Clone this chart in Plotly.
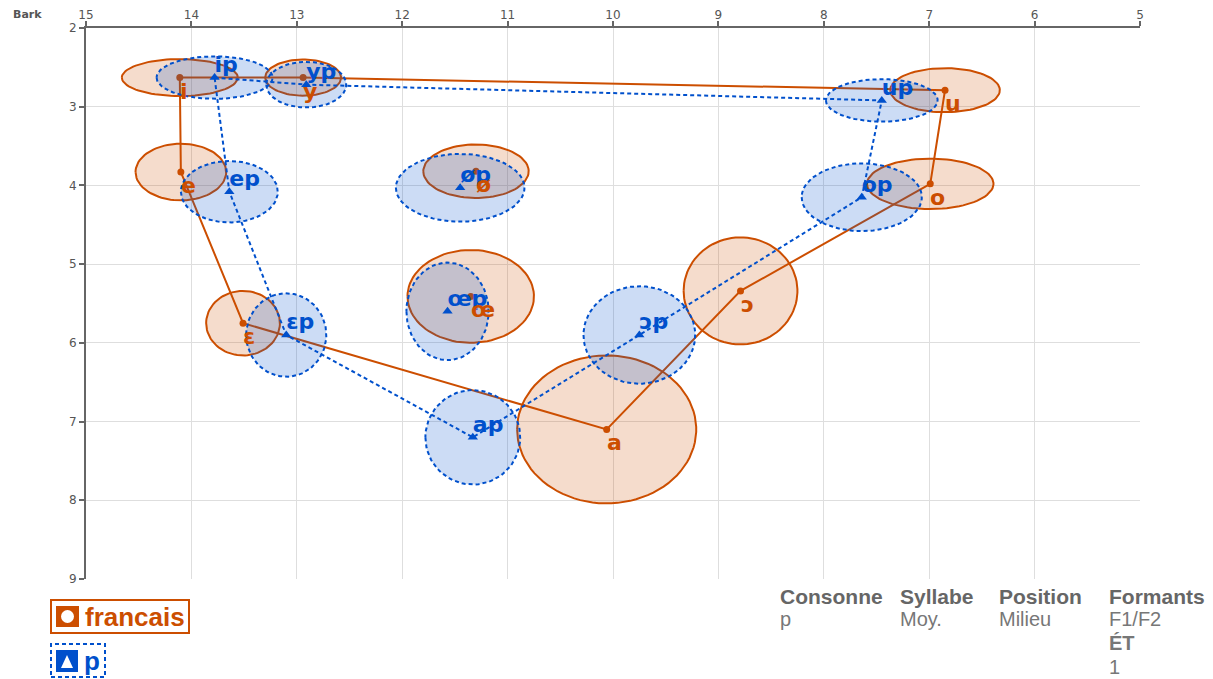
import numpy as np
import plotly.graph_objects as go

# ---------------- data ----------------
fr_labels = ["i", "y", "u", "o", "ɔ", "a", "ɛ", "e", "ø", "œ"]
fr_f2 = [14.11, 12.94, 6.85, 6.99, 8.79, 10.06, 13.51, 14.10, 11.30, 11.35]
fr_f1 = [2.63, 2.63, 2.79, 3.98, 5.34, 7.10, 5.75, 3.83, 3.82, 5.41]
fr_sd2 = [0.55, 0.36, 0.52, 0.60, 0.54, 0.85, 0.35, 0.43, 0.50, 0.60]
fr_sd1 = [0.235, 0.23, 0.28, 0.32, 0.68, 0.94, 0.41, 0.36, 0.34, 0.59]

p_labels = ["ip", "yp", "up", "op", "ɔp", "ap", "ɛp", "ep", "øp", "œp"]
p_f2 = [13.78, 12.91, 7.45, 7.64, 9.75, 11.33, 13.10, 13.64, 11.45, 11.57]
p_f1 = [2.63, 2.72, 2.92, 4.15, 5.90, 7.20, 5.90, 4.08, 4.03, 5.60]
p_sd2 = [0.55, 0.38, 0.53, 0.57, 0.53, 0.45, 0.38, 0.46, 0.61, 0.39]
p_sd1 = [0.27, 0.29, 0.27, 0.43, 0.62, 0.60, 0.53, 0.39, 0.43, 0.62]

# polygon order (indices into the lists above)
polygon_order = [0, 1, 2, 3, 4, 5, 6, 7, 0]

x_ticks = [15, 14, 13, 12, 11, 10, 9, 8, 7, 6, 5]
y_ticks = [2, 3, 4, 5, 6, 7, 8, 9]

table_headers = ["Consonne", "Syllabe", "Position", "Formants"]
table_values = [["p"], ["Moy."], ["Milieu"], ["F1/F2", "<b>ÉT</b>", "1"]]

# ---------------- style ----------------
ORANGE = "#CC4E00"
BLUE = "#0050CC"
ORANGE_FILL = "rgba(204,78,0,0.2)"
BLUE_FILL = "rgba(0,80,204,0.2)"
AXIS = "#666666"
GRID = "#dedede"
LABEL_SIZE = 22

OFF = 8  # page body margin
FIG_W, FIG_H = 1213 - OFF, 679 - OFF
# plot area in page pixels
L, R, T, B = 86, 1140, 28, 579


def px(x):
    return (x - L) / (R - L)


def py(y):
    return (B - y) / (B - T)


def ellipses(cx, cy, rx, ry):
    t = np.linspace(0, 2 * np.pi, 90)
    xs, ys = [], []
    for a, b, c, d in zip(cx, cy, rx, ry):
        xs += list(a + c * np.cos(t)) + [None]
        ys += list(b + d * np.sin(t)) + [None]
    return xs, ys


fig = go.Figure()

# ---- francais ----
ex, ey = ellipses(fr_f2, fr_f1, fr_sd2, fr_sd1)
fig.add_trace(go.Scatter(x=ex, y=ey, mode="lines", fill="toself",
                         fillcolor=ORANGE_FILL, line=dict(color=ORANGE, width=2),
                         hoverinfo="skip", showlegend=False))
fig.add_trace(go.Scatter(x=[fr_f2[i] for i in polygon_order], y=[fr_f1[i] for i in polygon_order],
                         mode="lines", line=dict(color=ORANGE, width=2),
                         hoverinfo="skip", showlegend=False))
fig.add_trace(go.Scatter(x=fr_f2, y=fr_f1, mode="markers",
                         marker=dict(symbol="circle", size=7, color=ORANGE),
                         name="francais", showlegend=False))

# ---- p ----
ex, ey = ellipses(p_f2, p_f1, p_sd2, p_sd1)
fig.add_trace(go.Scatter(x=ex, y=ey, mode="lines", fill="toself",
                         fillcolor=BLUE_FILL, line=dict(color=BLUE, width=2, dash="4px,3px"),
                         hoverinfo="skip", showlegend=False))
fig.add_trace(go.Scatter(x=[p_f2[i] for i in polygon_order], y=[p_f1[i] for i in polygon_order],
                         mode="lines", line=dict(color=BLUE, width=2, dash="4px,3px"),
                         hoverinfo="skip", showlegend=False))
fig.add_trace(go.Scatter(x=p_f2, y=p_f1, mode="markers",
                         marker=dict(symbol="triangle-up", size=9, color=BLUE),
                         name="p", showlegend=False))
fig.add_trace(go.Scatter(x=p_f2, y=p_f1, mode="text", text=p_labels,
                         textposition="top right",
                         textfont=dict(family="DejaVu Sans", size=LABEL_SIZE, color=BLUE, weight="bold"),
                         hoverinfo="skip", showlegend=False))

axis_common = dict(showline=True, linecolor=AXIS, linewidth=2, ticks="outside",
                   ticklen=5, tickwidth=2, tickcolor=AXIS, showgrid=True,
                   gridcolor=GRID, gridwidth=1, zeroline=False, automargin=False,
                   tickfont=dict(family="DejaVu Sans", size=12, color="#555555"))

fig.update_layout(
    width=FIG_W, height=FIG_H,
    margin=dict(l=L - OFF, r=FIG_W - (R - OFF), t=T - OFF, b=FIG_H - (B - OFF), pad=0),
    plot_bgcolor="white", paper_bgcolor="white",
    showlegend=False,
    xaxis=dict(side="top", range=[15, 5], tickvals=x_ticks, ticklabelstandoff=-3, **axis_common),
    yaxis=dict(range=[9, 2], tickvals=y_ticks, **axis_common),
)

shapes = []
# custom legend: francais
shapes.append(dict(type="rect", xref="paper", yref="paper", x0=px(51), x1=px(189),
                   y0=py(633), y1=py(600), line=dict(color=ORANGE, width=2)))
shapes.append(dict(type="rect", xref="paper", yref="paper", x0=px(56), x1=px(79),
                   y0=py(627), y1=py(606), fillcolor=ORANGE, line=dict(width=0)))
shapes.append(dict(type="circle", xref="paper", yref="paper", x0=px(61), x1=px(74),
                   y0=py(623), y1=py(610), fillcolor="white", line=dict(width=0)))
# custom legend: p
shapes.append(dict(type="rect", xref="paper", yref="paper", x0=px(51), x1=px(105),
                   y0=py(677), y1=py(644), line=dict(color=BLUE, width=2, dash="4px,3px")))
shapes.append(dict(type="rect", xref="paper", yref="paper", x0=px(56), x1=px(78),
                   y0=py(672), y1=py(650), fillcolor=BLUE, line=dict(width=0)))
shapes.append(dict(type="path", xref="paper", yref="paper",
                   path=f"M {px(67)} {py(655)} L {px(61)} {py(668)} L {px(73)} {py(668)} Z",
                   fillcolor="white", line=dict(width=0)))
fig.update_layout(shapes=shapes)

ann = []
# francais vowel labels, placed below-right of each mean point
for lab, x, y in zip(fr_labels, fr_f2, fr_f1):
    ann.append(dict(text=f"<b>{lab}</b>", x=x, y=y, xref="x", yref="y",
                    xanchor="left", yanchor="top", xshift=-2, yshift=1, showarrow=False,
                    font=dict(family="DejaVu Sans", size=LABEL_SIZE, color=ORANGE)))

ann.append(dict(text="<b>Bark</b>", xref="paper", yref="paper", x=px(11), y=py(14),
                xanchor="left", yanchor="middle", showarrow=False,
                font=dict(family="DejaVu Sans", size=11, color="#555555")))
ann.append(dict(text="<b>francais</b>", xref="paper", yref="paper", x=px(83), y=py(617),
                xanchor="left", yanchor="middle", showarrow=False,
                font=dict(family="Liberation Sans", size=26, color=ORANGE)))
ann.append(dict(text="<b>p</b>", xref="paper", yref="paper", x=px(82), y=py(661),
                xanchor="left", yanchor="middle", showarrow=False,
                font=dict(family="Liberation Sans", size=26, color=BLUE)))

col_x = [778, 898, 997, 1107]
row_y = [619, 643, 667]
for h, vals, cx in zip(table_headers, table_values, col_x):
    ann.append(dict(text=f"<b>{h}</b>", xref="paper", yref="paper", x=px(cx), y=py(596),
                    xanchor="left", yanchor="middle", showarrow=False,
                    font=dict(family="Liberation Sans", size=21, color="#666666")))
    for v, ry in zip(vals, row_y):
        ann.append(dict(text=v, xref="paper", yref="paper", x=px(cx), y=py(ry),
                        xanchor="left", yanchor="middle", showarrow=False,
                        font=dict(family="Liberation Sans", size=20, color="#777777")))
fig.update_layout(annotations=ann)

fig.write_html("out.html")
